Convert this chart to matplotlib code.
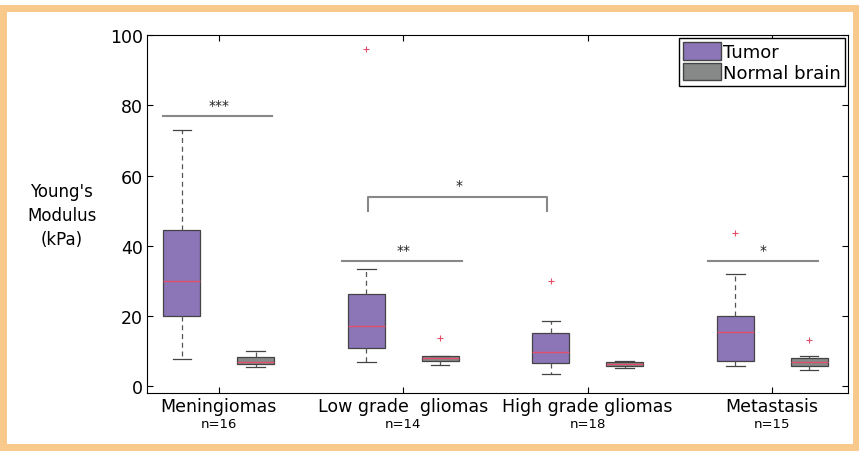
import numpy as np
import matplotlib
matplotlib.use("Agg")
import matplotlib.pyplot as plt
from matplotlib.patches import Rectangle, Patch

groups = ["Meningiomas", "Low grade  gliomas", "High grade gliomas", "Metastasis"]
n_labels = ["n=16", "n=14", "n=18", "n=15"]

# whislo, q1, med, q3, whishi, outliers
tumor = [
    (7.7, 20.0, 30.0, 44.5, 73.0, []),
    (6.8, 10.8, 17.0, 26.3, 33.5, [96.0]),
    (3.4, 6.6, 9.8, 15.0, 18.5, [30.0]),
    (5.8, 7.3, 15.5, 20.0, 32.0, [43.5]),
]
normal = [
    (5.5, 6.2, 7.0, 8.2, 10.0, []),
    (6.0, 7.3, 8.0, 8.5, 8.6, [13.8]),
    (5.2, 5.7, 6.3, 7.0, 7.3, []),
    (4.5, 5.8, 7.0, 8.0, 8.5, [13.0]),
]

# significance: (x0, x1, y, label, label x, bracket)
sig = [
    (0.70, 1.29, 77.0, "***", 1.0, False),
    (1.67, 2.32, 35.6, "**", 2.0, False),
    (1.81, 2.78, 54.0, "*", 2.3, True),
    (3.65, 4.25, 35.6, "*", 3.95, False),
]

tumor_col = "#8c76b8"
normal_col = "#868987"


def to_stats(rows):
    out = []
    for lo, q1, med, q3, hi, fl in rows:
        out.append(dict(whislo=lo, q1=q1, med=med, q3=q3, whishi=hi, fliers=fl))
    return out


fig = plt.figure(figsize=(8.59, 4.52), dpi=100)
ax = fig.add_axes([0.171, 0.128, 0.816, 0.792])

x = np.arange(1, len(groups) + 1)
common = dict(widths=0.2, capwidths=0.1, patch_artist=True, showfliers=True,
              whiskerprops=dict(color="#555555", ls=(0, (4, 3)), lw=0.9),
              capprops=dict(color="#444444", lw=0.9),
              medianprops=dict(color="#e0506a", lw=1.0),
              flierprops=dict(marker="+", markeredgecolor="#e0506a", markersize=5, mew=0.8))
ax.bxp(to_stats(tumor), positions=x - 0.2,
       boxprops=dict(facecolor=tumor_col, edgecolor="#444444", lw=0.9), **common)
ax.bxp(to_stats(normal), positions=x + 0.2,
       boxprops=dict(facecolor=normal_col, edgecolor="#444444", lw=0.9), **common)

for x0, x1, y, lab, lx, br in sig:
    if br:
        ax.plot([x0, x0, x1, x1], [y - 4, y, y, y - 4], color="#888888", lw=1.5)
    else:
        ax.plot([x0, x1], [y, y], color="#888888", lw=1.5)
    ax.text(lx, y + 1.2, lab, ha="center", va="bottom", fontsize=10, color="#222222")

ax.set_xlim(0.61, 4.41)
ax.set_ylim(-2, 100)
ax.set_yticks([0, 20, 40, 60, 80, 100])
ax.set_xticks(x)
ax.set_xticklabels(groups, fontsize=12.5)
ax.tick_params(direction="in", top=True, right=True, length=4, labelsize=12.5, pad=3)
for i, n in enumerate(n_labels):
    ax.text(x[i], -0.068, n, transform=ax.get_xaxis_transform(), ha="center", va="top", fontsize=9.5)

fig.text(0.072, 0.522, "Young's\nModulus\n(kPa)", ha="center", va="center", fontsize=12, linespacing=1.45)

ax.legend([Patch(facecolor=tumor_col, edgecolor="#444444"), Patch(facecolor=normal_col, edgecolor="#444444")],
          ["Tumor", "Normal brain"], loc="upper right", fontsize=13, fancybox=False,
          edgecolor="black", framealpha=1, borderpad=0.25, handlelength=2.1, handleheight=1.1,
          handletextpad=0.1, labelspacing=0.1, borderaxespad=0.15)

fig.patches.append(Rectangle((0.004, 0.008), 0.992, 0.972, transform=fig.transFigure,
                             fill=False, edgecolor="#f9c98b", lw=5))

fig.savefig("out.png", dpi=100)
